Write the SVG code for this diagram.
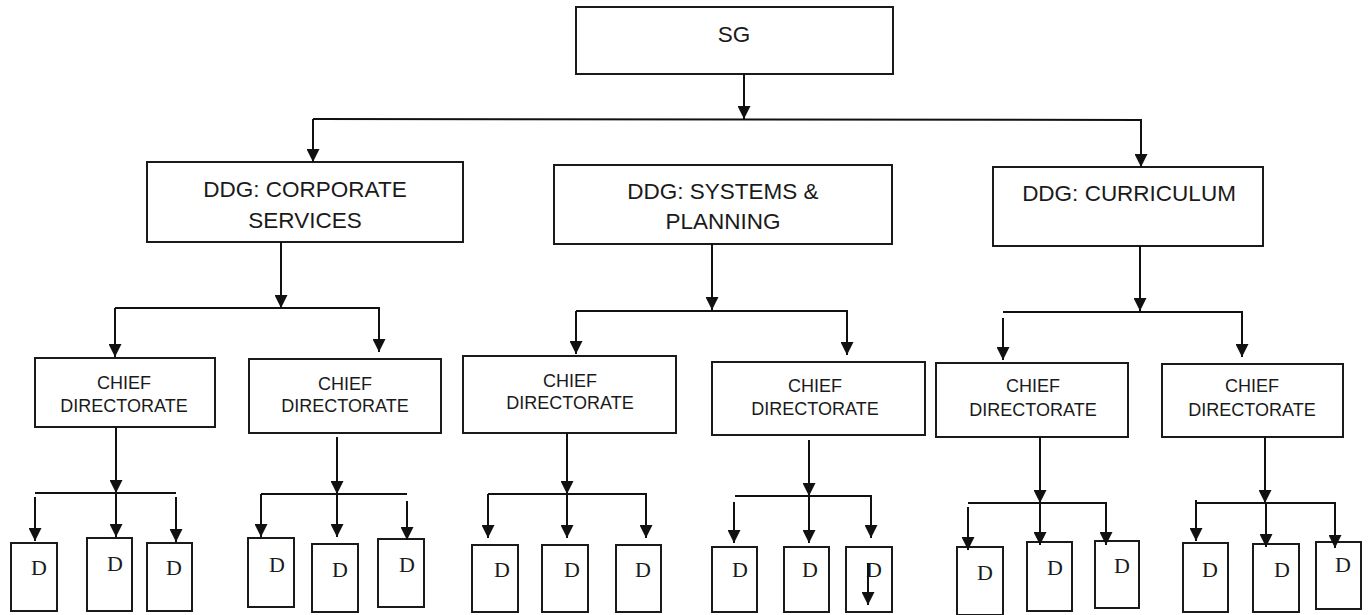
<svg xmlns="http://www.w3.org/2000/svg" width="1369" height="615" viewBox="0 0 1369 615">
<defs>
<marker id="arr" markerUnits="userSpaceOnUse" markerWidth="13" markerHeight="13" refX="13" refY="6.5" orient="auto">
<path d="M0,0 L13,6.5 L0,13 z" fill="#111"/>
</marker>
<style>
.box{fill:#fff;stroke:#1a1a1a;stroke-width:2}
.t1{font-family:"Liberation Sans",Arial,sans-serif;font-size:22.5px;fill:#1a1a1a;text-anchor:middle}
.t2{font-family:"Liberation Sans",Arial,sans-serif;font-size:18px;fill:#1a1a1a;text-anchor:middle}
.td{font-family:"Liberation Serif","Times New Roman",serif;font-size:22px;fill:#1a1a1a;text-anchor:middle}
.ln{fill:none;stroke:#111;stroke-width:2}
.ar{fill:none;stroke:#111;stroke-width:2;marker-end:url(#arr)}
</style>
</defs>
<rect width="1369" height="615" fill="#fff"/>

<g id="sg"><rect class="box" x="576" y="7" width="317" height="67"/><text class="t1" x="734" y="42">SG</text></g>

<g id="ddg-corporate"><rect class="box" x="147" y="162" width="316" height="80"/><text class="t1" x="305" y="197">DDG: CORPORATE</text><text class="t1" x="305" y="228">SERVICES</text></g>
<g id="ddg-systems"><rect class="box" x="554" y="165" width="338" height="79"/><text class="t1" x="723" y="199">DDG: SYSTEMS &amp;</text><text class="t1" x="723" y="229">PLANNING</text></g>
<g id="ddg-curriculum"><rect class="box" x="993" y="167" width="270" height="79"/><text class="t1" x="1129" y="201">DDG: CURRICULUM</text></g>

<g id="cd1"><rect class="box" x="35" y="358" width="180" height="69"/><text class="t2" x="124" y="389">CHIEF</text><text class="t2" x="124" y="412">DIRECTORATE</text></g>
<g id="cd2"><rect class="box" x="249" y="359" width="192" height="74"/><text class="t2" x="345" y="390">CHIEF</text><text class="t2" x="345" y="412">DIRECTORATE</text></g>
<g id="cd3"><rect class="box" x="463" y="356" width="213" height="77"/><text class="t2" x="570" y="387">CHIEF</text><text class="t2" x="570" y="409">DIRECTORATE</text></g>
<g id="cd4"><rect class="box" x="712" y="362" width="213" height="73"/><text class="t2" x="815" y="392">CHIEF</text><text class="t2" x="815" y="415">DIRECTORATE</text></g>
<g id="cd5"><rect class="box" x="936" y="363" width="192" height="74"/><text class="t2" x="1033" y="392">CHIEF</text><text class="t2" x="1033" y="416">DIRECTORATE</text></g>
<g id="cd6"><rect class="box" x="1162" y="364" width="181" height="73"/><text class="t2" x="1252" y="392">CHIEF</text><text class="t2" x="1252" y="416">DIRECTORATE</text></g>

<g id="d1a"><rect class="box" x="11" y="543" width="46" height="68"/><text class="td" x="39" y="575">D</text></g>
<g id="d1b"><rect class="box" x="87" y="538" width="45" height="73"/><text class="td" x="115" y="571">D</text></g>
<g id="d1c"><rect class="box" x="147" y="543" width="45" height="68"/><text class="td" x="174" y="575">D</text></g>

<g id="d2a"><rect class="box" x="248" y="538" width="46" height="69"/><text class="td" x="277" y="572">D</text></g>
<g id="d2b"><rect class="box" x="312" y="544" width="46" height="68"/><text class="td" x="340" y="577">D</text></g>
<g id="d2c"><rect class="box" x="378" y="539" width="46" height="68"/><text class="td" x="407" y="572">D</text></g>

<g id="d3a"><rect class="box" x="472" y="545" width="46" height="67"/><text class="td" x="502" y="577">D</text></g>
<g id="d3b"><rect class="box" x="542" y="545" width="46" height="67"/><text class="td" x="572" y="577">D</text></g>
<g id="d3c"><rect class="box" x="616" y="545" width="45" height="67"/><text class="td" x="643" y="577">D</text></g>

<g id="d4a"><rect class="box" x="712" y="547" width="45" height="65"/><text class="td" x="740" y="577">D</text></g>
<g id="d4b"><rect class="box" x="784" y="547" width="45" height="65"/><text class="td" x="810" y="577">D</text></g>
<g id="d4c"><rect class="box" x="846" y="547" width="46" height="65"/><text class="td" x="874" y="577">D</text></g>

<g id="d5a"><rect class="box" x="957" y="547" width="46" height="68"/><text class="td" x="985" y="580">D</text></g>
<g id="d5b"><rect class="box" x="1027" y="542" width="45" height="69"/><text class="td" x="1055" y="575">D</text></g>
<g id="d5c"><rect class="box" x="1095" y="541" width="44" height="67"/><text class="td" x="1122" y="573">D</text></g>

<g id="d6a"><rect class="box" x="1183" y="543" width="45" height="69"/><text class="td" x="1210" y="577">D</text></g>
<g id="d6b"><rect class="box" x="1253" y="544" width="46" height="68"/><text class="td" x="1282" y="577">D</text></g>
<g id="d6c"><rect class="box" x="1316" y="542" width="45" height="67"/><text class="td" x="1343" y="572">D</text></g>

<g id="connectors">
<line class="ar" x1="744" y1="74" x2="744" y2="119"/>
<line class="ln" x1="313" y1="119" x2="1142" y2="120"/>
<line class="ar" x1="313" y1="119" x2="313" y2="162"/>
<line class="ar" x1="1141" y1="120" x2="1141" y2="167"/>
<line class="ar" x1="281" y1="242" x2="281" y2="308"/>
<line class="ln" x1="115" y1="308" x2="380" y2="308"/>
<line class="ar" x1="115" y1="308" x2="115" y2="357"/>
<line class="ar" x1="379" y1="308" x2="379" y2="352"/>
<line class="ar" x1="712" y1="244" x2="712" y2="310"/>
<line class="ln" x1="576" y1="311" x2="848" y2="311"/>
<line class="ar" x1="576" y1="311" x2="576" y2="354"/>
<line class="ar" x1="847" y1="311" x2="847" y2="355"/>
<line class="ar" x1="1140" y1="246" x2="1140" y2="311"/>
<line class="ln" x1="1003" y1="312" x2="1243" y2="312"/>
<line class="ar" x1="1003" y1="318" x2="1003" y2="360"/>
<line class="ar" x1="1242" y1="312" x2="1242" y2="357"/>
<line class="ar" x1="116" y1="427" x2="116" y2="493"/>
<line class="ln" x1="35" y1="493" x2="176" y2="493"/>
<line class="ar" x1="35" y1="497" x2="35" y2="541"/>
<line class="ar" x1="116" y1="493" x2="116" y2="537"/>
<line class="ar" x1="176" y1="497" x2="176" y2="542"/>
<line class="ar" x1="337" y1="437" x2="337" y2="494"/>
<line class="ln" x1="261" y1="494" x2="407" y2="494"/>
<line class="ar" x1="261" y1="494" x2="261" y2="537"/>
<line class="ar" x1="337" y1="494" x2="337" y2="537"/>
<line class="ar" x1="407" y1="501" x2="407" y2="540"/>
<line class="ar" x1="567" y1="433" x2="567" y2="494"/>
<line class="ln" x1="488" y1="494" x2="647" y2="494"/>
<line class="ar" x1="488" y1="494" x2="488" y2="538"/>
<line class="ar" x1="567" y1="494" x2="567" y2="538"/>
<line class="ar" x1="646" y1="494" x2="646" y2="538"/>
<line class="ar" x1="809" y1="440" x2="809" y2="496"/>
<line class="ln" x1="735" y1="496" x2="872" y2="496"/>
<line class="ar" x1="734" y1="502" x2="734" y2="543"/>
<line class="ar" x1="809" y1="496" x2="809" y2="543"/>
<line class="ar" x1="871" y1="496" x2="871" y2="538"/>
<line class="ar" x1="868" y1="563" x2="868" y2="605"/>
<line class="ar" x1="1040" y1="437" x2="1040" y2="503"/>
<line class="ln" x1="968" y1="503" x2="1107" y2="503"/>
<line class="ar" x1="968" y1="507" x2="968" y2="550"/>
<line class="ar" x1="1040" y1="503" x2="1040" y2="545"/>
<line class="ar" x1="1106" y1="503" x2="1106" y2="545"/>
<line class="ar" x1="1265" y1="437" x2="1265" y2="503"/>
<line class="ln" x1="1196" y1="503" x2="1336" y2="503"/>
<line class="ar" x1="1196" y1="500" x2="1196" y2="541"/>
<line class="ar" x1="1266" y1="503" x2="1266" y2="547"/>
<line class="ar" x1="1335" y1="503" x2="1335" y2="548"/>
</g>
</svg>
